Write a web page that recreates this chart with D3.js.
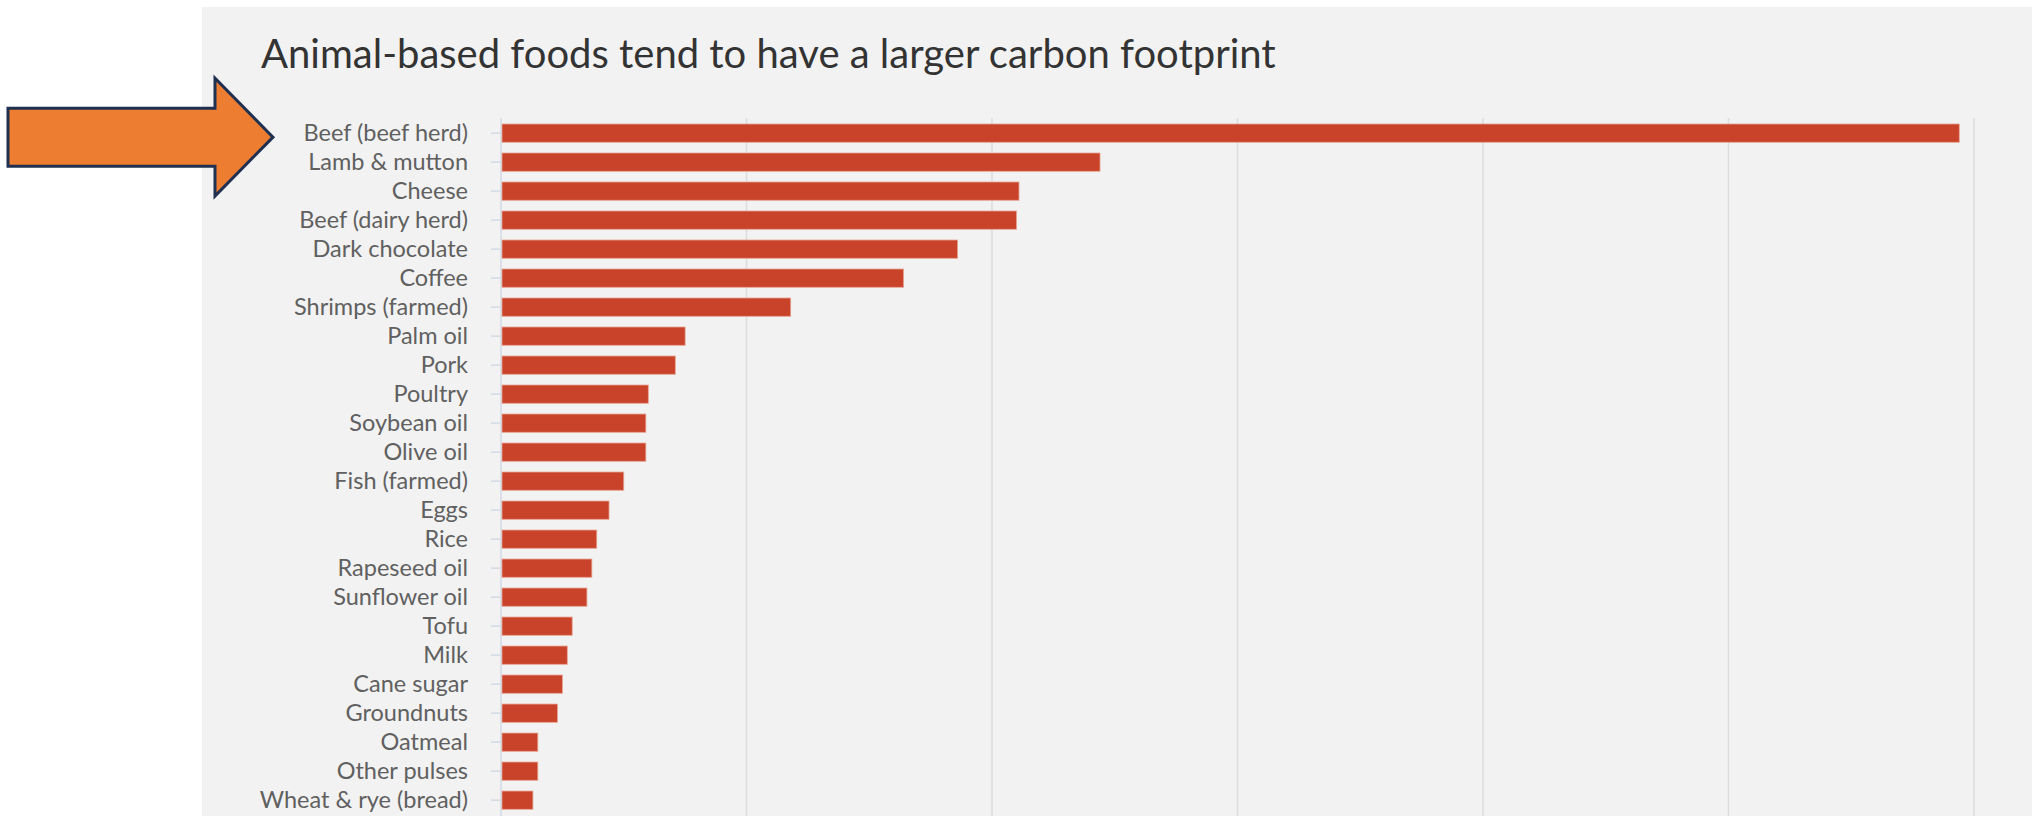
<!DOCTYPE html>
<html>
<head>
<meta charset="utf-8">
<script src="https://cdn.jsdelivr.net/npm/d3@7"></script>
<style>
  html, body { margin: 0; padding: 0; background: #ffffff; }
  svg { display: block; }
</style>
</head>
<body>
<svg id="chart" width="2033" height="816"></svg>
<script>
// Greenhouse gas emissions per kilogram of food product (kg CO2-equivalents)
const categories = [
  "Beef (beef herd)", "Lamb & mutton", "Cheese", "Beef (dairy herd)",
  "Dark chocolate", "Coffee", "Shrimps (farmed)", "Palm oil", "Pork",
  "Poultry", "Soybean oil", "Olive oil", "Fish (farmed)", "Eggs", "Rice",
  "Rapeseed oil", "Sunflower oil", "Tofu", "Milk", "Cane sugar",
  "Groundnuts", "Oatmeal", "Other pulses", "Wheat & rye (bread)"
];
const values = [
  59.4, 24.4, 21.1, 21.0,
  18.6, 16.4, 11.8, 7.5, 7.1,
  6.0, 5.9, 5.9, 5.0, 4.4, 3.9,
  3.7, 3.5, 2.9, 2.7, 2.5,
  2.3, 1.5, 1.5, 1.3
];
const xTicks = [0, 10, 20, 30, 40, 50, 60];
const title = "Animal-based foods tend to have a larger carbon footprint";

const W = 2033, H = 816;
const svg = d3.select("#chart");

// light grey card behind the chart
svg.append("rect")
  .attr("x", 202).attr("y", 7)
  .attr("width", 1830).attr("height", H - 7)
  .attr("fill", "#f2f2f2");

const x = d3.scaleLinear().domain([0, 60]).range([501, 1974]);
const y = d3.scaleBand()
  .domain(categories)
  .range([124, 809.3])
  .paddingInner(0.37)
  .paddingOuter(0);

const gridTop = 118;

// vertical gridlines
svg.append("g")
  .selectAll("line")
  .data(xTicks.filter(t => t > 0))
  .join("line")
  .attr("x1", d => x(d)).attr("x2", d => x(d))
  .attr("y1", gridTop).attr("y2", H)
  .attr("stroke", "#dddddd")
  .attr("stroke-width", 1.6);

// zero baseline
svg.append("line")
  .attr("x1", x(0)).attr("x2", x(0))
  .attr("y1", gridTop).attr("y2", H)
  .attr("stroke", "#d3dbe5")
  .attr("stroke-width", 1.6);

// bars
svg.append("g")
  .selectAll("rect")
  .data(categories.map((c, i) => ({ c, v: values[i] })))
  .join("rect")
  .attr("x", x(0) + 1)
  .attr("y", d => y(d.c))
  .attr("width", d => x(d.v) - x(0) - 1)
  .attr("height", y.bandwidth())
  .attr("fill", "#c9432a")
  .attr("stroke", "#e7a492")
  .attr("stroke-width", 0.8);

// category axis
const yAxis = d3.axisLeft(y).tickSize(10).tickSizeOuter(0).tickPadding(23);
const gy = svg.append("g")
  .attr("transform", `translate(${x(0)},0)`)
  .call(yAxis);
gy.select(".domain").remove();
gy.selectAll(".tick line").attr("stroke", "#d3dbe5").attr("stroke-width", 1.6);
gy.selectAll(".tick text")
  .attr("fill", "#606060")
  .style("font-family", "Lato, 'Open Sans', sans-serif")
  .style("font-size", "23.5px");

// title
svg.append("text")
  .attr("x", 261).attr("y", 68)
  .attr("fill", "#333333")
  .style("font-family", "Lato, 'Open Sans', sans-serif")
  .style("font-size", "40px")
  .text(title);

// orange callout arrow pointing at the first category
const tipY = y(categories[0]) + y.bandwidth() / 2 + 4;
const arrow = [
  [8, tipY - 29], [215, tipY - 29], [215, tipY - 59],
  [273, tipY], [215, tipY + 59], [215, tipY + 29], [8, tipY + 29]
];
svg.append("path")
  .attr("d", d3.line()(arrow) + "Z")
  .attr("fill", "#ed7d31")
  .attr("stroke", "#1f3050")
  .attr("stroke-width", 3)
  .attr("stroke-linejoin", "miter");
</script>
</body>
</html>
